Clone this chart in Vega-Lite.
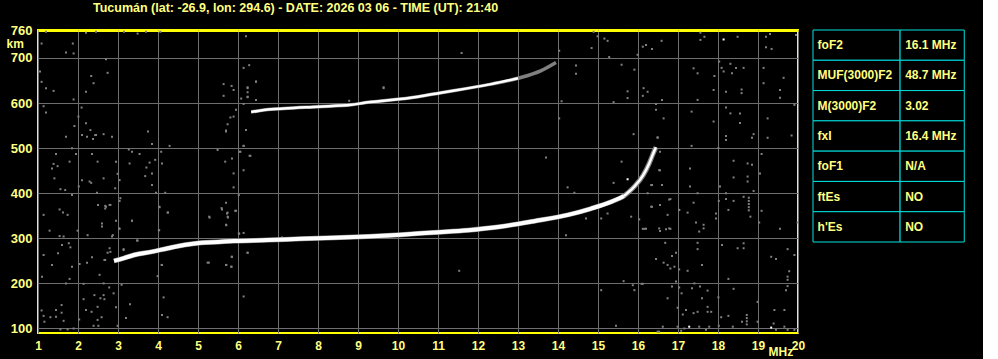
{
  "$schema": "https://vega.github.io/schema/vega-lite/v6.json",
  "background": "black",
  "padding": {"left": 5, "top": 1, "right": 5, "bottom": 2},
  "config": {"view": {"stroke": null}, "font": "Liberation Sans"},
  "spacing": 15,
  "bounds": "flush",
  "datasets": {
    "trace": [
      {"trace": "F", "f": 2.9, "h": 250}, {"trace": "F", "f": 3.15, "h": 256}, {"trace": "F", "f": 3.4, "h": 263},
      {"trace": "F", "f": 3.83, "h": 270}, {"trace": "F", "f": 4.25, "h": 278}, {"trace": "F", "f": 4.65, "h": 285},
      {"trace": "F", "f": 5.08, "h": 290}, {"trace": "F", "f": 5.5, "h": 292}, {"trace": "F", "f": 5.9, "h": 294},
      {"trace": "F", "f": 6.75, "h": 296}, {"trace": "F", "f": 7.58, "h": 299}, {"trace": "F", "f": 8.4, "h": 301},
      {"trace": "F", "f": 9.25, "h": 304}, {"trace": "F", "f": 10.08, "h": 308}, {"trace": "F", "f": 10.9, "h": 313},
      {"trace": "F", "f": 11.75, "h": 318}, {"trace": "F", "f": 12.5, "h": 325}, {"trace": "F", "f": 13.4, "h": 338},
      {"trace": "F", "f": 14.25, "h": 352}, {"trace": "F", "f": 14.83, "h": 366}, {"trace": "F", "f": 15.33, "h": 381},
      {"trace": "F", "f": 15.65, "h": 394}, {"trace": "F", "f": 15.9, "h": 414}, {"trace": "F", "f": 16.13, "h": 440},
      {"trace": "F", "f": 16.28, "h": 466}, {"trace": "F", "f": 16.38, "h": 488}, {"trace": "F", "f": 16.45, "h": 502}
    ],
    "trace2": [
      {"trace": "2F", "f": 6.33, "h": 580}, {"trace": "2F", "f": 6.83, "h": 586}, {"trace": "2F", "f": 7.15, "h": 588},
      {"trace": "2F", "f": 8.0, "h": 592}, {"trace": "2F", "f": 8.83, "h": 596}, {"trace": "2F", "f": 9.2, "h": 601},
      {"trace": "2F", "f": 9.65, "h": 605}, {"trace": "2F", "f": 10.5, "h": 614}, {"trace": "2F", "f": 11.08, "h": 623},
      {"trace": "2F", "f": 11.7, "h": 632}, {"trace": "2F", "f": 12.33, "h": 642}, {"trace": "2F", "f": 13.0, "h": 655},
      {"trace": "2F", "f": 13.58, "h": 672}, {"trace": "2F", "f": 13.95, "h": 690}
    ],
    "noise": [
      {"f":1.70,"h":525},{"f":2.10,"h":529},{"f":2.225,"h":525},{"f":2.43,"h":529},{"f":2.375,"h":520},{"f":2.64,"h":531},{"f":2.85,"h":525},{"f":3.75,"h":537},{"f":3.85,"h":509},{"f":4.29,"h":505},
      {"f":5.70,"h":537},{"f":6.14,"h":505},{"f":6.04,"h":492},{"f":6.29,"h":483},{"f":1.45,"h":487},{"f":1.85,"h":500},{"f":1.95,"h":487},{"f":2.35,"h":487},{"f":1.79,"h":470},{"f":1.39,"h":465},
      {"f":1.49,"h":460},{"f":1.35,"h":455},{"f":2.49,"h":470},{"f":2.95,"h":470},{"f":3.29,"h":466},{"f":3.54,"h":487},{"f":3.35,"h":492},{"f":3.27,"h":497},{"f":3.79,"h":468},{"f":3.93,"h":474},
      {"f":4.08,"h":492},{"f":4.10,"h":466},{"f":3.71,"h":457},{"f":3.85,"h":444},{"f":3.68,"h":438},{"f":2.99,"h":443},{"f":2.64,"h":433},{"f":2.29,"h":426},{"f":2.33,"h":423},{"f":3.04,"h":429},
      {"f":1.41,"h":433},{"f":2.10,"h":429},{"f":1.56,"h":409},{"f":1.68,"h":407},{"f":1.85,"h":396},{"f":2.02,"h":415},{"f":2.475,"h":401},{"f":2.93,"h":411},{"f":3.95,"h":401},{"f":4.18,"h":401},
      {"f":3.85,"h":418},{"f":5.68,"h":470},{"f":5.89,"h":444},{"f":6.14,"h":451},{"f":6.02,"h":396},{"f":5.89,"h":413},{"f":3.06,"h":389},{"f":3.04,"h":383},{"f":2.50,"h":374},{"f":2.68,"h":366},
      {"f":2.68,"h":372},{"f":2.79,"h":374},{"f":1.54,"h":364},{"f":1.625,"h":357},{"f":1.74,"h":352},{"f":1.14,"h":352},{"f":2.95,"h":339},{"f":3.35,"h":339},{"f":2.60,"h":333},{"f":2.60,"h":326},
      {"f":2.85,"h":304},{"f":1.29,"h":317},{"f":1.99,"h":317},{"f":2.24,"h":307},{"f":1.54,"h":305},{"f":1.64,"h":304},{"f":3.04,"h":321},{"f":4.25,"h":357},{"f":4.04,"h":369},{"f":4.02,"h":318},
      {"f":5.29,"h":346},{"f":5.60,"h":364},{"f":5.725,"h":355},{"f":5.75,"h":346},{"f":5.93,"h":361},{"f":5.71,"h":329},{"f":6.02,"h":311},{"f":6.14,"h":312},{"f":1.60,"h":285},{"f":1.77,"h":289},
      {"f":1.81,"h":280},{"f":1.14,"h":263},{"f":1.50,"h":267},{"f":2.79,"h":278},{"f":3.14,"h":274},{"f":2.35,"h":258},{"f":2.04,"h":243},{"f":1.85,"h":237},{"f":1.35,"h":241},{"f":2.225,"h":246},
      {"f":2.68,"h":252},{"f":2.54,"h":219},{"f":1.10,"h":215},{"f":1.79,"h":210},{"f":3.475,"h":295},{"f":4.10,"h":241},{"f":5.27,"h":246},{"f":5.71,"h":241},{"f":5.85,"h":259},{"f":5.83,"h":237},
      {"f":6.24,"h":268},{"f":7.10,"h":302},
      {"f":16.2,"h":729},{"f":16.59,"h":738},{"f":16.35,"h":720},{"f":16.12,"h":725},{"f":17.56,"h":756},{"f":17.66,"h":747},{"f":17.56,"h":740},{"f":18.49,"h":747},{"f":19.2,"h":747},{"f":19.3,"h":753},
      {"f":19.2,"h":724},{"f":19.34,"h":720},{"f":19.95,"h":751},{"f":18.03,"h":692},{"f":17.39,"h":677},{"f":17.49,"h":666},{"f":17.91,"h":660},{"f":18.09,"h":678},{"f":18.14,"h":670},{"f":18.31,"h":687},
      {"f":18.45,"h":678},{"f":18.64,"h":678},{"f":18.35,"h":666},{"f":19.14,"h":678},{"f":19.64,"h":656},{"f":19.14,"h":644},{"f":18.59,"h":630},{"f":18.59,"h":622},{"f":18.2,"h":625},{"f":17.89,"h":629},
      {"f":19.55,"h":629},{"f":19.55,"h":612},{"f":17.49,"h":607},{"f":16.6,"h":607},{"f":16.14,"h":633},{"f":16.24,"h":625},{"f":16.12,"h":616},{"f":16.45,"h":598},{"f":16.45,"h":585},{"f":16.64,"h":566},
      {"f":17.34,"h":581},{"f":17.89,"h":559},{"f":18.2,"h":590},{"f":18.31,"h":577},{"f":18.55,"h":577},{"f":18.55,"h":556},{"f":18.2,"h":527},{"f":18.2,"h":518},{"f":18.85,"h":523},{"f":18.89,"h":531},
      {"f":19.24,"h":566},{"f":19.24,"h":523},{"f":19.84,"h":528},{"f":19.91,"h":596},{"f":16.49,"h":523},{"f":17.34,"h":505},{"f":16.55,"h":492},{"f":16.55,"h":451},{"f":17.3,"h":455},{"f":18.01,"h":500},
      {"f":18.39,"h":472},{"f":18.74,"h":466},{"f":18.85,"h":463},{"f":18.74,"h":437},{"f":19.05,"h":444},{"f":19.09,"h":487},{"f":18.39,"h":435},
      {"f":16.35,"h":418},{"f":16.6,"h":418},{"f":16.24,"h":400},{"f":17.3,"h":415},{"f":17.49,"h":400},{"f":18.05,"h":415},{"f":18.2,"h":400},{"f":18.74,"h":426},{"f":18.89,"h":405},{"f":18.77,"h":390},
      {"f":18.77,"h":383},{"f":18.77,"h":376},{"f":18.77,"h":369},{"f":18.77,"h":362},{"f":18.64,"h":392},{"f":18.39,"h":383},{"f":18.2,"h":387},{"f":18.02,"h":383},{"f":17.39,"h":379},{"f":16.81,"h":387},
      {"f":16.55,"h":374},{"f":16.35,"h":370},{"f":17.03,"h":363},{"f":17.24,"h":357},{"f":16.74,"h":352},{"f":17.95,"h":355},{"f":17.95,"h":344},{"f":18.26,"h":363},{"f":18.81,"h":348},{"f":19.09,"h":361},
      {"f":19.03,"h":335},{"f":19.55,"h":321},{"f":19.99,"h":335},{"f":17.45,"h":335},{"f":17.64,"h":330},{"f":17.64,"h":322},{"f":17.53,"h":315},{"f":16.2,"h":321},{"f":16.12,"h":321},{"f":16.55,"h":316},
      {"f":16.7,"h":320},{"f":16.81,"h":321},{"f":16.68,"h":290},{"f":16.45,"h":254},{"f":16.64,"h":246},{"f":16.74,"h":241},{"f":16.81,"h":233},{"f":16.91,"h":237},{"f":17.03,"h":231},{"f":16.95,"h":268},
      {"f":16.85,"h":261},{"f":17.24,"h":228},{"f":17.6,"h":241},{"f":17.49,"h":290},{"f":17.49,"h":276},{"f":18.1,"h":285},{"f":18.49,"h":278},{"f":18.64,"h":289},{"f":18.64,"h":278},{"f":19.74,"h":276},
      {"f":19.33,"h":259},{"f":19.45,"h":254},{"f":19.91,"h":263},{"f":19.78,"h":227},{"f":19.74,"h":215},{"f":19.74,"h":208},{"f":19.74,"h":194},{"f":19.7,"h":185},{"f":16.12,"h":199},{"f":16.85,"h":193},
      {"f":17.03,"h":191},{"f":16.95,"h":204},{"f":17.09,"h":178},{"f":17.35,"h":189},{"f":17.55,"h":193},{"f":17.74,"h":184},{"f":17.41,"h":200},{"f":16.74,"h":167},{"f":17.6,"h":167},{"f":18.01,"h":169},
      {"f":18.26,"h":210},{"f":18.39,"h":188},{"f":18.99,"h":159},{"f":16.99,"h":146},{"f":17.2,"h":141},{"f":17.12,"h":131},{"f":17.39,"h":134},{"f":17.49,"h":137},{"f":17.74,"h":148},{"f":17.74,"h":137},
      {"f":17.83,"h":137},{"f":18.08,"h":125},{"f":18.26,"h":128},{"f":18.72,"h":130},{"f":18.72,"h":123},{"f":18.72,"h":116},{"f":18.72,"h":109},{"f":18.6,"h":115},{"f":18.37,"h":104},{"f":18.02,"h":106},
      {"f":17.78,"h":104},{"f":17.7,"h":97},{"f":17.53,"h":104},{"f":17.16,"h":100},{"f":17.08,"h":95},{"f":16.99,"h":104},{"f":16.62,"h":104},{"f":16.49,"h":93},{"f":18.99,"h":115},{"f":19.39,"h":111},
      {"f":19.45,"h":97},{"f":19.66,"h":104},{"f":19.74,"h":97},{"f":19.91,"h":97},{"f":19.41,"h":141},{"f":19.66,"h":141},
      {"f":1.70,"h":200},{"f":2.14,"h":199},{"f":2.64,"h":200},{"f":2.78,"h":191},{"f":2.89,"h":178},{"f":3.09,"h":197},{"f":2.41,"h":174},{"f":2.56,"h":167},{"f":2.64,"h":174},{"f":2.66,"h":165},
      {"f":2.14,"h":165},{"f":1.59,"h":152},{"f":1.09,"h":140},{"f":1.14,"h":128},{"f":1.45,"h":141},{"f":1.59,"h":135},{"f":1.31,"h":125},{"f":1.45,"h":126},{"f":1.64,"h":117},{"f":1.16,"h":115},
      {"f":2.2,"h":141},{"f":2.34,"h":137},{"f":2.49,"h":148},{"f":2.95,"h":147},{"f":3.3,"h":154},{"f":2.03,"h":120},{"f":2.59,"h":125},{"f":2.49,"h":119},{"f":3.2,"h":123},{"f":2.39,"h":106},
      {"f":2.51,"h":106},{"f":2.99,"h":106},{"f":1.56,"h":98},{"f":1.74,"h":98},{"f":1.89,"h":100},{"f":4.14,"h":169},{"f":4.1,"h":130},{"f":4.24,"h":125},{"f":6.14,"h":171},
      {"f":1.20,"h":758},{"f":1.09,"h":732},{"f":1.87,"h":732},{"f":1.70,"h":712},{"f":1.89,"h":710},{"f":2.2,"h":756},{"f":2.45,"h":758},{"f":2.7,"h":697},{"f":1.05,"h":670},{"f":1.09,"h":647},
      {"f":1.20,"h":633},{"f":1.39,"h":627},{"f":2.33,"h":660},{"f":2.39,"h":644},{"f":2.2,"h":625},{"f":2.74,"h":667},{"f":1.89,"h":608},{"f":1.14,"h":593},{"f":1.2,"h":579},{"f":2.09,"h":590},
      {"f":2.2,"h":555},{"f":1.91,"h":549},{"f":2.31,"h":540},{"f":2.45,"h":529},{"f":2.01,"h":570},{"f":3.15,"h":758},{"f":3.49,"h":754},{"f":3.7,"h":758},{"f":4.06,"h":758},{"f":6.2,"h":748},
      {"f":6.14,"h":678},{"f":6.28,"h":684},{"f":6.45,"h":648},{"f":6.24,"h":633},{"f":6.24,"h":624},{"f":6.24,"h":613},{"f":6.45,"h":607},{"f":11.59,"h":711},{"f":9.64,"h":633},{"f":8.78,"h":605},
      {"f":14.89,"h":758},{"f":14.99,"h":748},{"f":15.16,"h":743},{"f":15.24,"h":738},{"f":14.84,"h":722},{"f":15.28,"h":702},{"f":14.03,"h":716},{"f":14.45,"h":683},{"f":14.45,"h":665},{"f":15.59,"h":685},
      {"f":15.91,"h":674},{"f":15.74,"h":626},{"f":15.74,"h":611},{"f":15.99,"h":707},{"f":14.09,"h":604},{"f":15.39,"h":602},
      {"f":15.89,"h":531},{"f":16.49,"h":524},{"f":13.7,"h":479},{"f":15.59,"h":470},{"f":14.24,"h":413},{"f":14.41,"h":401},{"f":15.39,"h":423},{"f":16.33,"h":418},{"f":16.6,"h":418},{"f":16.53,"h":451},
      {"f":16.78,"h":386},{"f":17.03,"h":363},{"f":15.83,"h":348},{"f":16.03,"h":342},{"f":16.16,"h":321},{"f":16.33,"h":370},{"f":16.53,"h":322},{"f":16.78,"h":322},{"f":14.7,"h":344},{"f":15.08,"h":344},
      {"f":15.24,"h":355},{"f":14.2,"h":307},
      {"f":2.7,"h":370},{"f":2.81,"h":374},{"f":4.03,"h":370},{"f":4.24,"h":357},{"f":5.28,"h":348},{"f":5.7,"h":379},{"f":5.59,"h":367},{"f":5.74,"h":357},{"f":5.74,"h":348},{"f":5.95,"h":361},
      {"f":5.7,"h":330},{"f":3.35,"h":339},{"f":3.03,"h":322},{"f":2.87,"h":307},{"f":3.49,"h":295},{"f":4.03,"h":318},{"f":6.03,"h":310},{"f":6.24,"h":268},{"f":5.84,"h":259},{"f":5.24,"h":246},
      {"f":5.7,"h":241},{"f":5.84,"h":237},{"f":4.09,"h":241},{"f":3.99,"h":216},{"f":11.53,"h":228},{"f":2.81,"h":270},{"f":2.74,"h":268},{"f":3.14,"h":276},{"f":2.66,"h":252},
      {"f":5.64,"h":642},{"f":5.84,"h":638},{"f":5.89,"h":629},{"f":6.24,"h":635},{"f":6.24,"h":614},{"f":6.45,"h":647},{"f":5.64,"h":616},{"f":6.08,"h":610},{"f":6.45,"h":607},{"f":6.14,"h":598},
      {"f":5.95,"h":585},{"f":5.89,"h":570},{"f":5.81,"h":568},{"f":5.74,"h":553},{"f":5.7,"h":539},{"f":6.2,"h":540},{"f":6.14,"h":505},{"f":5.49,"h":496},{"f":6.06,"h":492},{"f":6.31,"h":483},
      {"f":5.85,"h":477},{"f":9.64,"h":635},{"f":14.03,"h":566},
      {"f":15.64,"h":205},{"f":15.87,"h":196},{"f":15.91,"h":185},{"f":16.09,"h":199},{"f":15.45,"h":106},{"f":16.53,"h":93},{"f":15.08,"h":185}
    ],
    "white": [
      {"f":18.14,"h":741},{"f":15.74,"h":431},{"f":17.28,"h":104},{"f":19.33,"h":102}
    ],
    "table": [
      {"param": "foF2", "value": "16.1 MHz"},
      {"param": "MUF(3000)F2", "value": "48.7 MHz"},
      {"param": "M(3000)F2", "value": "3.02"},
      {"param": "fxI", "value": "16.4 MHz"},
      {"param": "foF1", "value": "N/A"},
      {"param": "ftEs", "value": "NO"},
      {"param": "h'Es", "value": "NO"}
    ]
  },
  "hconcat": [
    {
      "width": 760,
      "height": 303,
      "view": {"stroke": "#ffff00", "strokeWidth": 2},
      "title": {
        "text": "Tucumán (lat: -26.9, lon: 294.6) - DATE: 2026 03 06 - TIME (UT): 21:40",
        "anchor": "start", "frame": "group", "dx": 55, "offset": 10,
        "color": "#ffff80", "font": "Liberation Sans", "fontSize": 12.5, "fontWeight": "bold"
      },
      "encoding": {
        "x": {
          "field": "f", "type": "quantitative",
          "scale": {"domain": [1, 20], "nice": false, "zero": false},
          "axis": {
            "values": [1,2,3,4,5,6,7,8,9,10,11,12,13,14,15,16,17,18,19,20],
            "format": "d", "grid": true, "gridColor": "#6e6e6e", "gridWidth": 1,
            "ticks": false, "domain": false, "labelFlush": false, "labelPadding": 7,
            "labelColor": "#ffff80", "labelFont": "Liberation Sans", "labelFontWeight": "bold", "labelFontSize": 12,
            "title": "MHz", "titleColor": "#ffff80", "titleFont": "Liberation Sans", "titleFontWeight": "bold", "titleFontSize": 12,
            "titleX": 730, "titleY": 22, "titleAlign": "left", "titleBaseline": "alphabetic", "titleAnchor": null
          }
        },
        "y": {
          "field": "h", "type": "quantitative",
          "scale": {"domain": [90, 762], "nice": false, "zero": false},
          "axis": {
            "values": [100,200,300,400,500,600,700,760],
            "format": "d", "grid": true,
            "gridColor": {"condition": {"test": "datum.value === 760", "value": "#ffff00"}, "value": "#6e6e6e"},
            "gridWidth": 1, "ticks": false, "domain": false, "labelPadding": 6,
            "labelColor": "#ffff80", "labelFont": "Liberation Sans", "labelFontWeight": "bold", "labelFontSize": 13,
            "title": "km", "titleColor": "#ffff80", "titleFont": "Liberation Sans", "titleFontWeight": "bold", "titleFontSize": 12,
            "titleAngle": 0, "titleX": -32, "titleY": 17, "titleAlign": "left", "titleBaseline": "alphabetic", "titleAnchor": null
          }
        }
      },
      "layer": [
        {"data": {"name": "noise"}, "mark": {"type": "square", "size": 4, "color": "#808080", "opacity": 1, "clip": true}},
        {"data": {"name": "white"}, "mark": {"type": "square", "size": 4, "color": "#ffffff", "opacity": 1, "clip": true}},
        {"data": {"name": "trace"}, "mark": {"type": "line", "color": "#808080", "strokeWidth": 5, "interpolate": "monotone", "clip": true}},
        {"data": {"name": "trace"}, "transform": [{"filter": "datum.f <= 15.7"}], "mark": {"type": "line", "color": "#ffffff", "strokeWidth": 4, "interpolate": "monotone", "clip": true}},
        {"data": {"name": "trace"}, "transform": [{"filter": "datum.f >= 15.6"}], "mark": {"type": "line", "color": "#ffffff", "strokeWidth": 2.5, "interpolate": "monotone", "clip": true}},
        {"data": {"name": "trace2"}, "mark": {"type": "line", "color": "#808080", "strokeWidth": 3.5, "interpolate": "monotone", "clip": true}},
        {"data": {"name": "trace2"}, "transform": [{"filter": "datum.f <= 13.0"}], "mark": {"type": "line", "color": "#ffffff", "strokeWidth": 2.5, "interpolate": "monotone", "clip": true}}
      ]
    },
    {
      "width": 165,
      "height": 212,
      "data": {"name": "table"},
      "encoding": {
        "y": {"field": "param", "type": "nominal", "sort": null, "scale": {"paddingInner": 0, "paddingOuter": 0}, "axis": null}
      },
      "layer": [
        {"mark": {"type": "rect", "fill": "black", "stroke": "#00e0e0", "strokeWidth": 1},
         "encoding": {"x": {"datum": 0, "type": "quantitative", "scale": {"domain": [0, 165]}, "axis": null}, "x2": {"datum": 95}}},
        {"mark": {"type": "rect", "fill": "black", "stroke": "#00e0e0", "strokeWidth": 1},
         "encoding": {"x": {"datum": 95, "type": "quantitative"}, "x2": {"datum": 165}}},
        {"mark": {"type": "text", "align": "left", "baseline": "middle", "color": "#ffff80", "font": "Liberation Sans", "fontWeight": "bold", "fontSize": 12},
         "encoding": {"x": {"datum": 5, "type": "quantitative"}, "text": {"field": "param"}}},
        {"mark": {"type": "text", "align": "left", "baseline": "middle", "color": "#ffff80", "font": "Liberation Sans", "fontWeight": "bold", "fontSize": 12},
         "encoding": {"x": {"datum": 100.5, "type": "quantitative"}, "text": {"field": "value"}}}
      ]
    }
  ]
}
